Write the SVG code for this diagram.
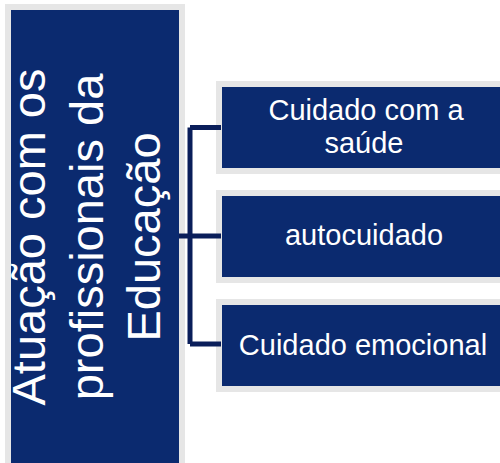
<svg xmlns="http://www.w3.org/2000/svg" width="500" height="463" viewBox="0 0 500 463">
<style>
.box{fill:#0B2A6F;stroke:#E6E6E6;stroke-width:6}
.t{font-family:"Liberation Sans",Arial,sans-serif;fill:#FFFFFF;text-anchor:middle}
.big{font-size:47px}
.small{font-size:29px}
.conn{fill:none;stroke:#0A1E5A;stroke-width:5}
</style>
<rect width="500" height="463" fill="#FFFFFF"/>
<g id="node-main">
<rect class="box" x="8" y="7" width="174" height="470"/>
<g transform="translate(0,237) rotate(-90)">
<text class="t big" x="0" y="45">Atuação com os</text>
<text class="t big" x="0" y="103">profissionais da</text>
<text class="t big" x="0" y="160">Educação</text>
</g>
</g>
<g id="node-saude">
<rect class="box" x="219" y="84" width="300" height="87"/>
<text class="t small" x="366" y="120">Cuidado com a</text>
<text class="t small" x="364" y="153">saúde</text>
</g>
<g id="node-autocuidado">
<rect class="box" x="219" y="193" width="300" height="87"/>
<text class="t small" x="364" y="245">autocuidado</text>
</g>
<g id="node-emocional">
<rect class="box" x="219" y="302" width="300" height="87"/>
<text class="t small" x="363" y="355">Cuidado emocional</text>
</g>
<g id="connectors">
<path class="conn" d="M179,236 H190 M190,127.5 V344 M190,127.5 H221 M190,236 H221 M190,344 H221"/>
</g>
</svg>
